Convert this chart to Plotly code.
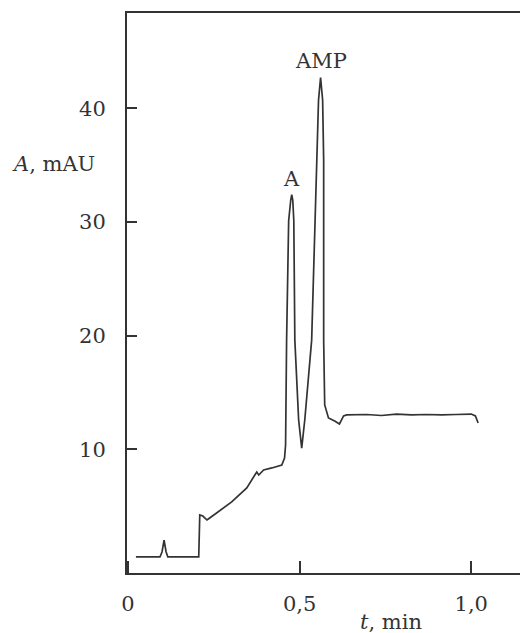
import plotly.graph_objects as go

# Chromatogram trace (time in min, absorbance in mAU)
t_min = [0.023, 0.093, 0.099, 0.105, 0.111, 0.116, 0.206, 0.209, 0.218, 0.230, 0.238,
         0.302, 0.346, 0.366, 0.375, 0.381, 0.395, 0.419, 0.448, 0.456, 0.459,
         0.462, 0.468, 0.474, 0.477, 0.480, 0.483, 0.486, 0.497, 0.506,
         0.515, 0.535, 0.544, 0.549, 0.555, 0.561, 0.567, 0.570, 0.570, 0.573,
         0.584, 0.602, 0.616, 0.628, 0.637, 0.695, 0.738, 0.782, 0.826, 0.869,
         0.913, 0.956, 1.000, 1.012, 1.020]
a_mau = [0.53, 0.53, 0.97, 2.02, 0.97, 0.53, 0.53, 4.22, 4.13, 3.78, 3.96,
         5.37, 6.60, 7.65, 8.00, 7.74, 8.18, 8.36, 8.62, 9.23, 10.38,
         19.6, 30.1, 31.9, 32.4, 31.9, 30.1, 19.6, 12.6, 10.1,
         12.6, 19.6, 30.1, 35.4, 40.7, 42.7, 40.7, 35.4, 19.6, 13.9,
         12.75, 12.49, 12.23, 12.93, 13.02, 13.06, 12.97, 13.10, 13.02, 13.06,
         13.02, 13.06, 13.10, 12.93, 12.31]

x_tickvals = [0, 0.5, 1.0]
x_ticktext = ["0", "0,5", "1,0"]
y_tickvals = [10, 20, 30, 40]
y_ticktext = ["10", "20", "30", "40"]

peak_names = ["A", "AMP"]
peak_t = [0.477, 0.561]
peak_a = [32.4, 42.7]

ink = "#333333"
font = dict(family="DejaVu Serif, serif", size=21, color=ink)

fig = go.Figure()
fig.add_trace(go.Scatter(x=t_min, y=a_mau, mode="lines",
                         line=dict(color=ink, width=1.7), hoverinfo="skip",
                         showlegend=False))

for name, tx, ay in zip(peak_names, peak_t, peak_a):
    fig.add_annotation(x=tx, y=ay, text=name, showarrow=False, yanchor="bottom",
                       yshift=2, font=font)

fig.add_annotation(xref="paper", yref="paper", x=-0.077, y=0.73, text="<i>A</i>, mAU",
                   showarrow=False, xanchor="right", yanchor="middle", font=font)
fig.add_annotation(xref="paper", yref="paper", x=0.673, y=-0.087, text="<i>t</i>, min",
                   showarrow=False, xanchor="center", yanchor="middle", font=font)

fig.update_layout(
    width=520, height=633,
    margin=dict(l=127, r=0, t=13, b=60),
    paper_bgcolor="white", plot_bgcolor="white",
    font=font,
    xaxis=dict(range=[-0.003, 1.142], tickvals=x_tickvals, ticktext=x_ticktext,
               ticks="inside", ticklen=12, tickwidth=1.5, tickcolor=ink,
               showline=True, linecolor=ink, linewidth=2, mirror=True,
               showgrid=False, zeroline=False, ticklabelstandoff=11,
               tickfont=font),
    yaxis=dict(range=[-0.88, 48.37], tickvals=y_tickvals, ticktext=y_ticktext,
               ticks="inside", ticklen=10, tickwidth=1.5, tickcolor=ink,
               showline=True, linecolor=ink, linewidth=2, mirror=False,
               showgrid=False, zeroline=False, ticklabelstandoff=15,
               tickfont=font),
)

fig.write_html("out.html", config={"displayModeBar": False},
               post_script="document.body.style.margin='0';")
